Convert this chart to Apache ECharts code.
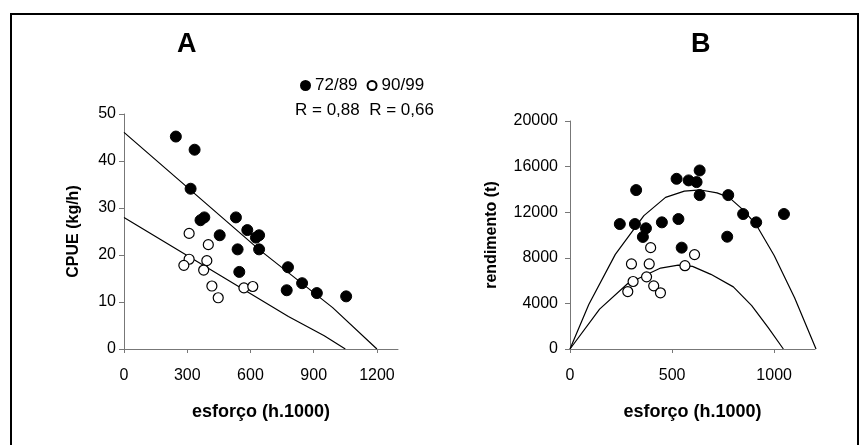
<!DOCTYPE html>
<html>
<head>
<meta charset="utf-8">
<script src="https://cdn.jsdelivr.net/npm/echarts@6/dist/echarts.min.js"></script>
<style>
  html, body { margin: 0; padding: 0; background: #fff; }
  #chart { width: 864px; height: 445px; }
</style>
</head>
<body>
<div id="chart"></div>
<script>
// painel A: CPUE x esforço
var esforcoA_72 = [246, 335, 316, 363, 381, 454, 531, 539, 585, 626, 641, 641, 547, 778, 772, 845, 915, 1054]
var cpue_72 = [45.2, 42.4, 34.1, 27.4, 28.0, 24.2, 28.0, 21.2, 25.3, 23.7, 24.2, 21.2, 16.4, 17.4, 12.5, 14.0, 11.9, 11.2]
var esforcoA_90 = [309, 400, 309, 284, 393, 378, 417, 447, 569, 611]
var cpue_90 = [24.6, 22.2, 19.1, 17.8, 18.8, 16.8, 13.4, 10.9, 13.0, 13.3]

// retas ajustadas (vértices)
var retaX_72 = [0, 640, 990, 1200]
var retaY_72 = [46.1, 21.2, 8.8, 0]
var retaX_90 = [0, 780, 950, 1050]
var retaY_90 = [28.0, 6.9, 2.8, 0]

// painel B: rendimento x esforço
var esforcoB_72 = [244, 324, 318, 372, 357, 450, 522, 531, 581, 620, 635, 635, 547, 775, 770, 848, 912, 1048]
var rend_72 = [10960, 13940, 10960, 10590, 9830, 11110, 14930, 11400, 14790, 14640, 15660, 13500, 8890, 13500, 9850, 11840, 11110, 11840]
var esforcoB_90 = [301, 395, 388, 309, 375, 410, 443, 283, 563, 610]
var rend_90 = [7460, 8890, 7460, 5920, 6330, 5540, 4930, 5040, 7310, 8280]

var curvaX_72 = [0, 92, 222, 362, 468, 560, 640, 720, 779, 848, 912, 1000, 1100, 1205]
var curvaY_72 = [0, 3900, 8300, 11700, 13300, 13850, 13950, 13700, 13300, 12200, 10900, 8200, 4500, 0]
var curvaX_90 = [0, 145, 283, 444, 530, 600, 690, 800, 890, 970, 1045]
var curvaY_90 = [0, 3500, 5750, 7100, 7350, 7250, 6550, 5450, 3800, 1900, 0]

// rótulos dos eixos
var ticksA_x = [0, 300, 600, 900, 1200]
var ticksB_x = [0, 500, 1000]

function pares(xs, ys) {
  return xs.map(function(x, i) { return [x, ys[i]] })
}

var fonte = '"Liberation Sans", Arial, sans-serif'
var corEixo = '#777'
var semMilhar = function(v) { return String(v) }

function eixoX(idx, max, ticks) {
  return {
    gridIndex: idx,
    type: 'value',
    min: 0,
    max: max,
    name: 'esforço (h.1000)',
    nameLocation: 'middle',
    nameGap: 54,
    nameTextStyle: { fontFamily: fonte, fontSize: 18, fontWeight: 'bold', color: '#000' },
    splitLine: { show: false },
    axisLine: { lineStyle: { color: corEixo, width: 1 } },
    axisTick: { show: true, length: 4, customValues: ticks, lineStyle: { color: corEixo } },
    axisLabel: { customValues: ticks, margin: 19, fontFamily: fonte, fontSize: 16, color: '#000', formatter: semMilhar }
  }
}

function eixoY(idx, max, interval, nome, gap, margem) {
  return {
    gridIndex: idx,
    type: 'value',
    min: 0,
    max: max,
    interval: interval,
    name: nome,
    nameLocation: 'middle',
    nameGap: gap,
    nameTextStyle: { fontFamily: fonte, fontSize: 16, fontWeight: 'bold', color: '#000' },
    splitLine: { show: false },
    axisLine: { show: true, lineStyle: { color: corEixo, width: 1 } },
    axisTick: { show: true, length: 5, lineStyle: { color: corEixo } },
    axisLabel: { margin: margem, fontFamily: fonte, fontSize: 16, color: '#000', formatter: semMilhar }
  }
}

var cheio = { color: '#000', borderColor: '#000', borderWidth: 1, opacity: 1 }
var vazio = { color: '#fff', borderColor: '#000', borderWidth: 1.2, opacity: 1 }

function linha(xi, xs, ys) {
  return {
    type: 'line',
    xAxisIndex: xi,
    yAxisIndex: xi,
    data: pares(xs, ys),
    symbol: 'none',
    silent: true,
    lineStyle: { color: '#000', width: 1.2 },
    z: 1
  }
}

var chart = echarts.init(document.getElementById('chart'))
chart.setOption({
  animation: false,
  backgroundColor: '#fff',
  textStyle: { fontFamily: fonte },
  title: [
    { text: 'A', left: 177, top: 31, padding: 0, textStyle: { fontSize: 27, fontWeight: 'bold', color: '#000', fontFamily: fonte } },
    { text: 'B', left: 691, top: 31, padding: 0, textStyle: { fontSize: 27, fontWeight: 'bold', color: '#000', fontFamily: fonte } }
  ],
  legend: {
    left: 300,
    top: 77,
    padding: 0,
    data: ['72/89', '90/99'],
    icon: 'circle',
    itemWidth: 9,
    itemHeight: 9,
    itemGap: 9,
    textStyle: { fontFamily: fonte, fontSize: 17, color: '#000' }
  },
  graphic: [
    {
      type: 'text',
      left: 295,
      top: 102,
      style: { text: 'R = 0,88  R = 0,66', fontFamily: fonte, fontSize: 17, fill: '#000' }
    },
    {
      type: 'rect',
      shape: { x: 11, y: 14, width: 847, height: 460 },
      style: { fill: 'none', stroke: '#000', lineWidth: 2 },
      silent: true
    }
  ],
  grid: [
    { left: 124, top: 114, width: 274, height: 235 },
    { left: 570, top: 121, width: 245, height: 228 }
  ],
  xAxis: [eixoX(0, 1300, ticksA_x), eixoX(1, 1200, ticksB_x)],
  yAxis: [eixoY(0, 50, 10, 'CPUE (kg/h)', 42, 8), eixoY(1, 20000, 4000, 'rendimento (t)', 70, 12)],
  series: [
    linha(0, retaX_72, retaY_72),
    linha(0, retaX_90, retaY_90),
    linha(1, curvaX_72, curvaY_72),
    linha(1, curvaX_90, curvaY_90),
    { name: '72/89', type: 'scatter', xAxisIndex: 0, yAxisIndex: 0, data: pares(esforcoA_72, cpue_72), symbolSize: 11, itemStyle: cheio, z: 3 },
    { name: '90/99', type: 'scatter', xAxisIndex: 0, yAxisIndex: 0, data: pares(esforcoA_90, cpue_90), symbolSize: 10, itemStyle: vazio, z: 3 },
    { name: '72/89', type: 'scatter', xAxisIndex: 1, yAxisIndex: 1, data: pares(esforcoB_72, rend_72), symbolSize: 11, itemStyle: cheio, z: 3 },
    { name: '90/99', type: 'scatter', xAxisIndex: 1, yAxisIndex: 1, data: pares(esforcoB_90, rend_90), symbolSize: 10, itemStyle: vazio, z: 3 }
  ]
})
</script>
</body>
</html>
